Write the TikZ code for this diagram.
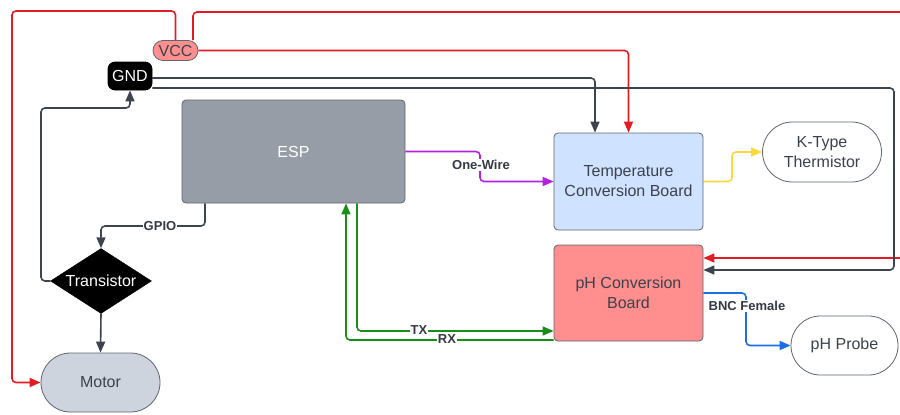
\documentclass[tikz,border=0pt]{standalone}
\usepackage{fontspec}
\setmainfont{Liberation Sans}
\usetikzlibrary{arrows.meta,shapes.geometric,backgrounds}

\definecolor{wirered}{HTML}{E31B23}
\definecolor{wiredark}{HTML}{3D444E}
\definecolor{wirepurple}{HTML}{B620E0}
\definecolor{wireyellow}{HTML}{FFD93B}
\definecolor{wiregreen}{HTML}{178F17}
\definecolor{wireblue}{HTML}{1C6FE6}
\definecolor{edgegray}{HTML}{5E6670}
\definecolor{inkgray}{HTML}{3B424B}
\definecolor{labelgray}{HTML}{333A42}
\definecolor{vccfill}{HTML}{FF8F8F}
\definecolor{espgray}{HTML}{979DA6}
\definecolor{tempblue}{HTML}{CFE2FF}
\definecolor{motorgray}{HTML}{CED4DD}

\tikzset{
  box/.style={draw=edgegray, line width=0.8pt, rounded corners=4pt, inner sep=0pt,
    text=inkgray, font=\fontsize{16}{20}\selectfont, align=center},
  wire/.style={line width=1.6pt, rounded corners=4pt,
    -{Triangle[length=11pt,width=9pt]}},
  tag/.style={fill=white, inner sep=0.8pt, text=labelgray,
    font=\bfseries\fontsize{13}{15}\selectfont},
}

\begin{document}
\begin{tikzpicture}[x=1pt,y=-1pt]
\useasboundingbox (0,0) rectangle (900,415);

% power rails and modules
\node[box, fill=vccfill, minimum width=45pt, minimum height=20pt, rounded corners=10pt] (vcc) at (175.5,50.5) {VCC};
\node[box, draw=black, fill=black, text=white, minimum width=44pt, minimum height=28pt, rounded corners=7pt] (gnd) at (130,76) {GND};
\node[box, fill=espgray, text=white, minimum width=223pt, minimum height=103pt] (esp) at (293.5,151.5) {ESP};
\node[box, fill=tempblue, minimum width=149pt, minimum height=97pt] (temp) at (628.5,181.5) {Temperature\\Conversion Board};
\node[box, fill=vccfill, minimum width=149pt, minimum height=96pt] (ph) at (628.5,293) {pH Conversion\\Board};
\node[box, fill=white, minimum width=119pt, minimum height=60pt, rounded corners=29.9pt] (kt) at (822,152) {K-Type\\Thermistor};
\node[box, fill=white, minimum width=107pt, minimum height=59pt, rounded corners=29.4pt] (probe) at (844.5,345.5) {pH Probe};
\node[diamond, aspect=1.55, draw=black, fill=black, text=white, inner sep=0pt,
      minimum width=101pt, minimum height=65pt, font=\fontsize{16}{20}\selectfont] (tr) at (101,281) {Transistor};
\node[box, fill=motorgray, minimum width=119pt, minimum height=59pt, rounded corners=29.4pt] (motor) at (100.5,382.5) {Motor};

% signal labels
\node[tag] (lgpio) at (160,226) {GPIO};
\node[tag] (lone) at (481,165) {One-Wire};
\node[tag] (ltx) at (419,330) {TX};
\node[tag] (lrx) at (447,339) {RX};
\node[tag] (lbnc) at (747,306) {BNC Female};

% wiring
\begin{scope}[on background layer]
  \fill[white] (0,0) rectangle (900,415);
  \clip (0,0) rectangle (900,415);
  \draw[wire, wirered] (vcc.north) |- (12,11) |- (motor.west);
  \draw[wire, wirered] ([xshift=17.5pt]vcc.north) |- (910,12) |- ([yshift=35pt]ph.east);
  \draw[wire, wirered] (vcc.east) -| (temp.north);
  \draw[wire, wiredark] ([yshift=-2pt]gnd.east) -| ([xshift=-33.5pt]temp.north);
  \draw[wire, wiredark] ([yshift=-12pt]gnd.east) -| (894,270) -- ([yshift=23pt]ph.east);
  \draw[wire, wiredark] (tr.west) -| (41,108) -| (gnd.south);
  \draw[wire, wiredark] ([xshift=-88.5pt]esp.south) |- (150,226) -| (tr.north);
  \draw[wire, wiredark] (tr.south) -- (motor.north);
  \draw[wire, wirepurple] (esp.east) -| (480,166) |- (temp.west);
  \draw[wire, wireyellow] (temp.east) -| (732,166) |- (kt.west);
  \draw[wire, wiregreen] ([xshift=63.5pt]esp.south) |- ([yshift=-38pt]ph.west);
  \draw[wire, wiregreen] ([yshift=-47pt]ph.west) -| ([xshift=52.5pt]esp.south);
  \draw[wire, wireblue] (ph.east) -| (746,320) |- (probe.west);
\end{scope}
\end{tikzpicture}
\end{document}
